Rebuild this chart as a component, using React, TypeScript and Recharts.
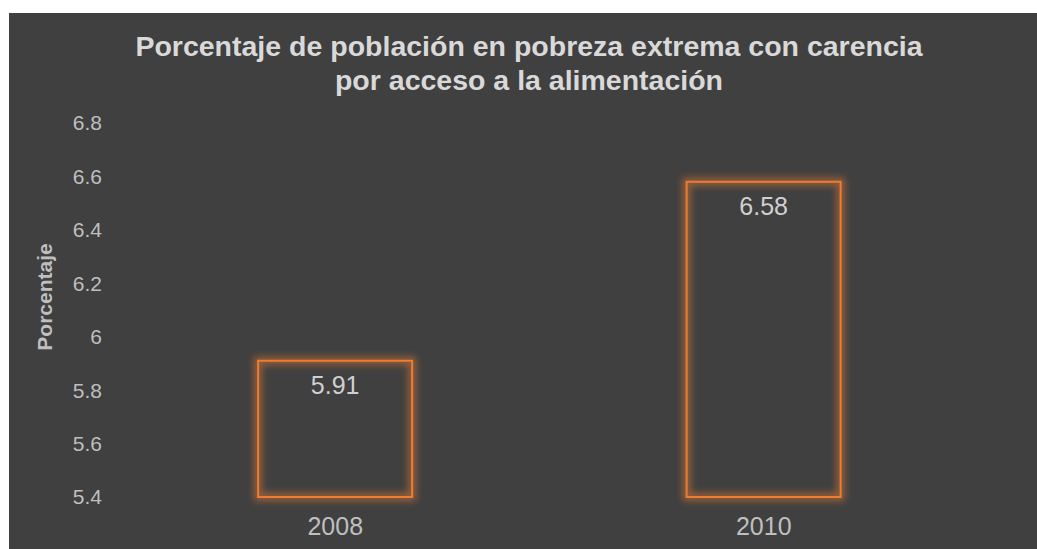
import { Bar, BarChart, LabelList, XAxis, YAxis } from "recharts";

const years = ["2008", "2010"];
const porcentaje = [5.91, 6.58];
const yTicks = [5.4, 5.6, 5.8, 6, 6.2, 6.4, 6.6, 6.8];

const data = years.map((year, i) => ({ year, valor: porcentaje[i] }));

const ORANGE = "#ED7D31";
const BG = "#404040";

const GlowBar = (props: any) => {
  const { x, y, width, height, index } = props;
  const id = `glow-${index}`;
  return (
    <g>
      <defs>
        <filter id={id} x="-20%" y="-20%" width="140%" height="140%">
          <feGaussianBlur stdDeviation="3.5" />
        </filter>
      </defs>
      <rect
        x={x}
        y={y}
        width={width}
        height={height}
        fill="none"
        stroke={ORANGE}
        strokeWidth={8}
        strokeOpacity={0.5}
        filter={`url(#${id})`}
      />
      <rect
        x={x}
        y={y}
        width={width}
        height={height}
        fill="none"
        stroke={ORANGE}
        strokeWidth={2}
      />
    </g>
  );
};

const YLabel = () => {
  const cx = 35;
  const cy = 284;
  return (
    <text
      x={cx}
      y={cy}
      transform={`rotate(-90 ${cx} ${cy})`}
      textAnchor="middle"
      dominantBaseline="central"
      fill="#bfbfbf"
      fontSize={21}
      fontWeight="bold"
    >
      Porcentaje
    </text>
  );
};

export default function App() {
  return (
    <div
      style={{
        position: "absolute",
        left: 9,
        top: 13,
        width: 1028,
        height: 536,
        background: BG,
        fontFamily: "'Liberation Sans', Arial, sans-serif",
      }}
    >
      <div
        style={{
          position: "absolute",
          left: 0,
          width: 1040,
          top: 16,
          textAlign: "center",
          color: "#d9d9d9",
          fontWeight: "bold",
          fontSize: 28.5,
          lineHeight: "34px",
        }}
      >
        Porcentaje de población en pobreza extrema con carencia
        <br />
        por acceso a la alimentación
      </div>
      <BarChart
        width={1028}
        height={536}
        data={data}
        margin={{ top: 110, right: 59, bottom: 0, left: 0 }}
        barCategoryGap="32%"
        style={{ position: "absolute", left: 0, top: 0 }}
      >
        <XAxis
          dataKey="year"
          axisLine={false}
          tickLine={false}
          tickMargin={14}
          height={52}
          tick={{ fill: "#bfbfbf", fontSize: 25 }}
        />
        <YAxis
          domain={[5.4, 6.8]}
          ticks={yTicks}
          interval={0}
          axisLine={false}
          tickLine={false}
          tickMargin={13}
          width={112}
          tick={{ fill: "#bfbfbf", fontSize: 21 }}
          label={<YLabel />}
        />
        <Bar
          dataKey="valor"
          fill="none"
          shape={<GlowBar />}
          isAnimationActive={false}
        >
          <LabelList
            dataKey="valor"
            position="insideTop"
            offset={15}
            fill="#d0d0d0"
            fontSize={25}
          />
        </Bar>
      </BarChart>
    </div>
  );
}
